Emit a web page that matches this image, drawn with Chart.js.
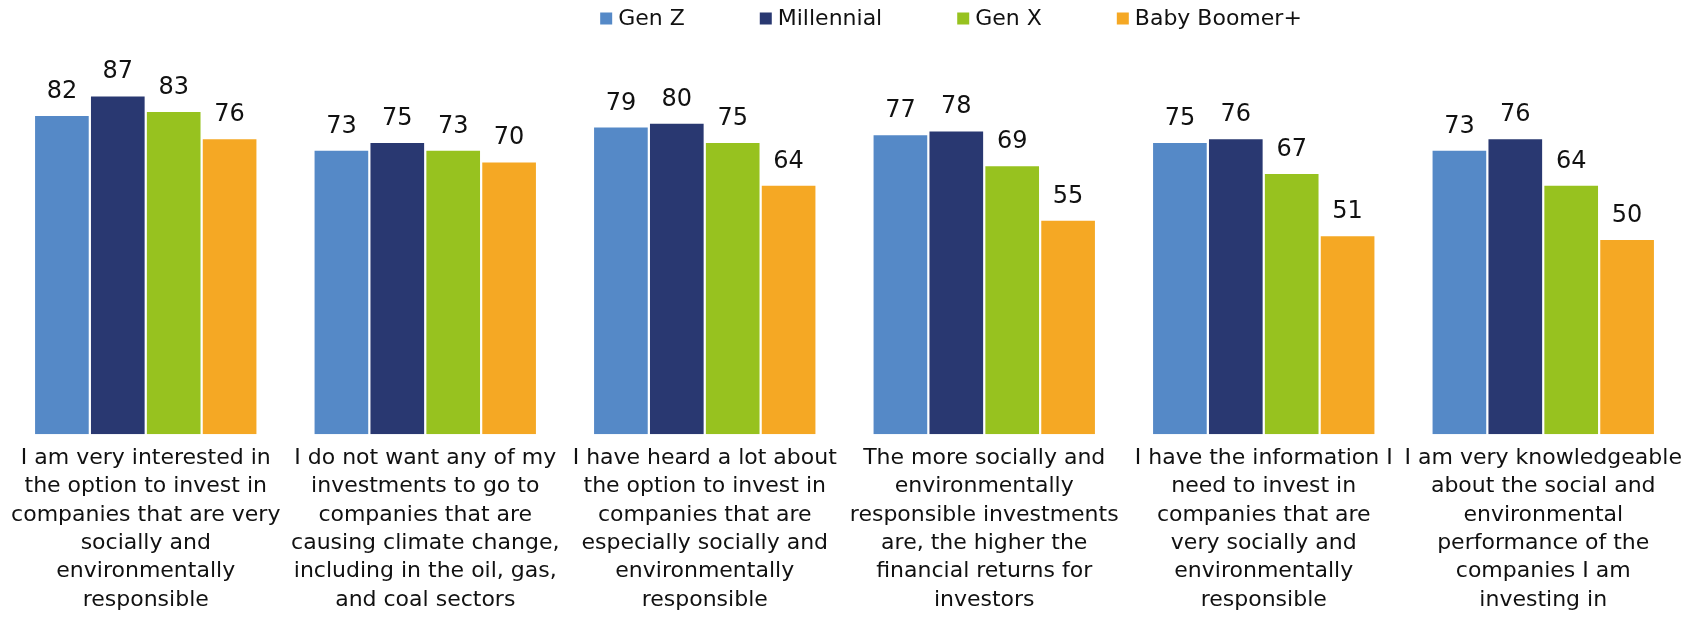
<!DOCTYPE html>
<html>
<head>
<meta charset="utf-8">
<script src="https://cdn.jsdelivr.net/npm/chart.js@4.4.0/dist/chart.umd.min.js"></script>
<style>
    html, body { margin: 0; padding: 0; background: #fff; }
    #grafico_invest { display: block; }
</style>
</head>
<body>
<canvas id="grafico_invest" width="1700" height="620"></canvas>
<script>
const categorias = [
    ['I am very interested in', 'the option to invest in', 'companies that are very', 'socially and', 'environmentally', 'responsible'],
    ['I do not want any of my', 'investments to go to', 'companies that are', 'causing climate change,', 'including in the oil, gas,', 'and coal sectors'],
    ['I have heard a lot about', 'the option to invest in', 'companies that are', 'especially socially and', 'environmentally', 'responsible'],
    ['The more socially and', 'environmentally', 'responsible investments', 'are, the higher the', 'financial returns for', 'investors'],
    ['I have the information I', 'need to invest in', 'companies that are', 'very socially and', 'environmentally', 'responsible'],
    ['I am very knowledgeable', 'about the social and', 'environmental', 'performance of the', 'companies I am', 'investing in'],
]
const geracoes = ['Gen Z', 'Millennial', 'Gen X', 'Baby Boomer+']
const cores = ['#5589C7', '#293871', '#97C21F', '#F5A824']

const gen_z = [82, 73, 79, 77, 75, 73]
const millennial = [87, 75, 80, 78, 76, 76]
const gen_x = [83, 73, 75, 69, 67, 64]
const baby_boomer = [76, 70, 64, 55, 51, 50]

const fonte = 'DejaVu Sans'

// numbers above each bar
const rotulos_valores = {
    id: 'rotulos_valores',
    afterDatasetsDraw(chart) {
        const ctx = chart.ctx
        ctx.save()
        ctx.font = '24px "' + fonte + '"'
        ctx.fillStyle = '#111'
        ctx.textAlign = 'center'
        ctx.textBaseline = 'alphabetic'
        chart.data.datasets.forEach((ds, i) => {
            chart.getDatasetMeta(i).data.forEach((bar, j) => {
                ctx.fillText(ds.data[j], bar.x, bar.y - 18)
            })
        })
        ctx.restore()
    }
}

// legend row on top, wider spacing than the built-in one allows
const legenda_topo = {
    id: 'legenda_topo',
    afterDraw(chart) {
        const ctx = chart.ctx
        const caixa = 12
        const espaco_texto = 6
        const espaco_item = 75
        const centro_x = 951
        const centro_y = 18.5
        ctx.save()
        ctx.font = '22px "' + fonte + '"'
        const larguras = chart.data.datasets.map(ds => caixa + espaco_texto + ctx.measureText(ds.label).width)
        const total = larguras.reduce((a, b) => a + b, 0) + espaco_item * (larguras.length - 1)
        let x = centro_x - total / 2
        ctx.textBaseline = 'middle'
        ctx.textAlign = 'left'
        chart.data.datasets.forEach((ds, i) => {
            ctx.fillStyle = ds.backgroundColor
            ctx.fillRect(x, centro_y - caixa / 2, caixa, caixa)
            ctx.fillStyle = '#111'
            ctx.fillText(ds.label, x + caixa + espaco_texto, centro_y + 1)
            x += larguras[i] + espaco_item
        })
        ctx.restore()
    }
}

const series = [gen_z, millennial, gen_x, baby_boomer]

const data_invest = {
    labels: categorias,
    datasets: series.map((valores, i) => ({
        label: geracoes[i],
        data: valores,
        backgroundColor: cores[i],
        borderWidth: 0,
        barPercentage: 0.96,
        categoryPercentage: 0.8,
    }))
}

const config_invest = {
    type: 'bar',
    data: data_invest,
    options: {
        responsive: false,
        animation: false,
        layout: {
            padding: { top: 46, left: 6, right: 17, bottom: -4 }
        },
        plugins: {
            legend: { display: false },
            tooltip: { enabled: false },
        },
        scales: {
            x: {
                grid: { display: false, drawTicks: false },
                border: { display: false },
                ticks: {
                    autoSkip: false,
                    maxRotation: 0,
                    minRotation: 0,
                    padding: 10,
                    color: '#111',
                    font: { family: fonte, size: 22, lineHeight: 1.286 }
                }
            },
            y: {
                display: false,
                min: 0,
                max: 100,
            }
        }
    },
    plugins: [rotulos_valores, legenda_topo]
}

new Chart(document.getElementById('grafico_invest'), config_invest)
</script>
</body>
</html>
